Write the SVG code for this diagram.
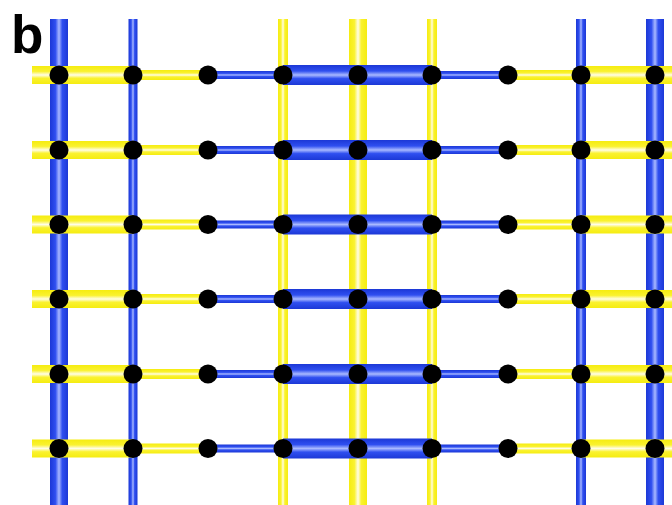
<svg xmlns="http://www.w3.org/2000/svg" width="672" height="505" viewBox="0 0 672 505">
<defs>
<linearGradient id="bh" x1="0" y1="0" x2="0" y2="1"><stop offset="0" stop-color="#1c38d6"/><stop offset="0.3" stop-color="#2f4ff0"/><stop offset="0.5" stop-color="#a9b9ff"/><stop offset="0.68" stop-color="#2f4ff0"/><stop offset="1" stop-color="#1c38d6"/></linearGradient>
<linearGradient id="bv" x1="0" y1="0" x2="1" y2="0"><stop offset="0" stop-color="#1c38d6"/><stop offset="0.3" stop-color="#2f4ff0"/><stop offset="0.5" stop-color="#a9b9ff"/><stop offset="0.68" stop-color="#2f4ff0"/><stop offset="1" stop-color="#1c38d6"/></linearGradient>
<linearGradient id="yh" x1="0" y1="0" x2="0" y2="1"><stop offset="0" stop-color="#f5ec10"/><stop offset="0.3" stop-color="#faf230"/><stop offset="0.5" stop-color="#fffde8"/><stop offset="0.68" stop-color="#faf230"/><stop offset="1" stop-color="#f5ec10"/></linearGradient>
<linearGradient id="yv" x1="0" y1="0" x2="1" y2="0"><stop offset="0" stop-color="#f5ec10"/><stop offset="0.3" stop-color="#faf230"/><stop offset="0.5" stop-color="#fffde8"/><stop offset="0.68" stop-color="#faf230"/><stop offset="1" stop-color="#f5ec10"/></linearGradient>
<circle id="dot" r="9.5" fill="#000"/>
<g id="row">
<rect x="32" y="-9" width="101" height="18" fill="url(#yh)"/>
<rect x="133" y="-5" width="75" height="10" fill="url(#yh)"/>
<rect x="208" y="-4" width="75" height="8" fill="url(#bh)"/>
<rect x="283" y="-10" width="149" height="20" fill="url(#bh)"/>
<rect x="432" y="-4" width="76" height="8" fill="url(#bh)"/>
<rect x="508" y="-5" width="73" height="10" fill="url(#yh)"/>
<rect x="581" y="-9" width="91" height="18" fill="url(#yh)"/>
</g>
<g id="dots">
<use href="#dot" x="59"/><use href="#dot" x="133"/><use href="#dot" x="208"/><use href="#dot" x="283"/><use href="#dot" x="358"/><use href="#dot" x="432"/><use href="#dot" x="508"/><use href="#dot" x="581"/><use href="#dot" x="655"/>
</g>
</defs>
<style>text{font-family:"Liberation Sans",Arial,sans-serif;font-weight:bold;}</style>
<rect width="672" height="505" fill="#fff"/>
<text x="11" y="53" font-size="53">b</text>
<g id="connectors">
<rect x="50" y="19" width="18" height="486" fill="url(#bv)"/>
<rect x="128.5" y="19" width="9" height="486" fill="url(#bv)"/>
<rect x="278" y="19" width="10" height="486" fill="url(#yv)"/>
<rect x="349" y="19" width="18" height="486" fill="url(#yv)"/>
<rect x="427" y="19" width="10" height="486" fill="url(#yv)"/>
<rect x="576" y="19" width="10" height="486" fill="url(#bv)"/>
<rect x="646" y="19" width="18" height="486" fill="url(#bv)"/>
<use href="#row" y="75"/>
<use href="#row" y="150"/>
<use href="#row" y="224.5"/>
<use href="#row" y="299"/>
<use href="#row" y="374"/>
<use href="#row" y="448.5"/>
</g>
<g id="nodes-row1"><use href="#dots" y="75"/></g>
<g id="nodes-row2"><use href="#dots" y="150"/></g>
<g id="nodes-row3"><use href="#dots" y="224.5"/></g>
<g id="nodes-row4"><use href="#dots" y="299"/></g>
<g id="nodes-row5"><use href="#dots" y="374"/></g>
<g id="nodes-row6"><use href="#dots" y="448.5"/></g>
</svg>
